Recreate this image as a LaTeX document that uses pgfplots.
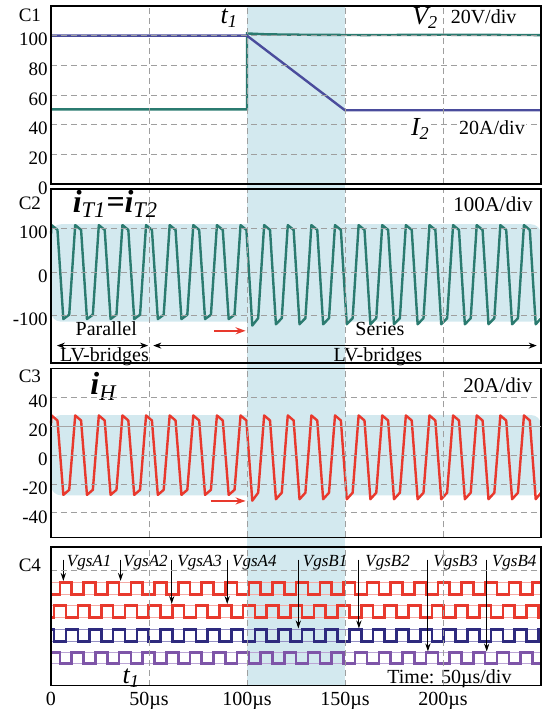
\documentclass[border=0pt]{standalone}
\usepackage{pgfplots}
\pgfplotsset{compat=1.18}
\usepackage{pgfplotstable}
\usepackage{fontspec}
\setmainfont{Liberation Serif}
\usetikzlibrary{arrows.meta}

\definecolor{cShade}{HTML}{D3E9EF}
\definecolor{cTeal}{HTML}{2B7B70}
\definecolor{cSlate}{HTML}{4A4C9C}
\definecolor{cRed}{HTML}{E8392D}
\definecolor{cRedL}{HTML}{F5AAA4}
\definecolor{cNavy}{HTML}{2E2A7E}
\definecolor{cNavyL}{HTML}{9490C4}
\definecolor{cPurp}{HTML}{7E55A8}
\definecolor{cPurpL}{HTML}{BBA5D5}

\pgfplotstableread{
t c2 c3
0 88 22
0.3 108 27.5
3.3 97 24
6.3 -108 -27.5
9.3 -98 -24
12.35 108 27.5
15.35 97 24
18.35 -108 -27.5
21.35 -98 -24
24.4 108 27.5
27.4 97 24
30.4 -108 -27.5
33.4 -98 -24
36.45 108 27.5
39.45 97 24
42.45 -108 -27.5
45.45 -98 -24
48.5 108 27.5
51.5 97 24
54.5 -108 -27.5
57.5 -98 -24
60.55 108 27.5
63.55 97 24
66.55 -108 -27.5
69.55 -98 -24
72.6 108 27.5
75.6 97 24
78.6 -108 -27.5
81.6 -98 -24
84.65 108 27.5
87.65 97 24
90.65 -108 -27.5
93.65 -98 -24
96.7 108 27.5
99.7 97 24
102.7 -123 -31.5
105.7 -106 -26
108.75 108 27.5
111.75 97 24
114.75 -120 -30.5
117.75 -106 -26
120.8 108 27.5
123.8 97 24
126.8 -120 -30.5
129.8 -106 -26
132.85 108 27.5
135.85 97 24
138.85 -120 -30.5
141.85 -106 -26
144.9 108 27.5
147.9 97 24
150.9 -120 -30.5
153.9 -106 -26
156.95 108 27.5
159.95 97 24
162.95 -120 -30.5
165.95 -106 -26
169 108 27.5
172 97 24
175 -120 -30.5
178 -106 -26
181.05 108 27.5
184.05 97 24
187.05 -120 -30.5
190.05 -106 -26
193.1 108 27.5
196.1 97 24
199.1 -120 -30.5
202.1 -106 -26
205.15 108 27.5
208.15 97 24
211.15 -120 -30.5
214.15 -106 -26
217.2 108 27.5
220.2 97 24
223.2 -120 -30.5
226.2 -106 -26
229.25 108 27.5
232.25 97 24
235.25 -120 -30.5
238.25 -106 -26
241.3 108 27.5
244.3 97 24
247.3 -120 -30.5
250 -106 -26
}\wavetab

\pgfplotsset{panel/.style={
  scale only axis, width=245pt, xmin=0, xmax=250, clip=false,
  axis on top, anchor=south west,
  xtick={0,50,100,150,200}, xticklabels={},
  grid=major,
  major grid style={gray!75, line width=0.45pt, dash pattern=on 3pt off 2pt},
  major tick length=0pt,
  axis line style={line width=0.8pt},
  tick label style={font=\fontsize{9.5}{10}\selectfont},
  yticklabel style={yshift=-2pt, inner sep=1.5pt},
}}

\begin{document}
\begin{tikzpicture}
% background shading of the transition interval
\begin{axis}[hide axis, scale only axis, width=245pt, height=339.75pt,
  at={(25.5pt,11.75pt)}, anchor=south west, xmin=0, xmax=250, ymin=0, ymax=1]
\fill[cShade] (axis cs:100,0) rectangle (axis cs:150,1);
\end{axis}

% ---------------- C1
\begin{axis}[panel, at={(25.5pt,262.5pt)}, height=89pt, ymin=0, ymax=120,
  ytick={0,20,40,60,80,100}, yticklabels={0,20,40,60,80,100}]
\addplot[cTeal, line width=1.2pt] coordinates {(0,50.3)(100,50.3)(100,101.5)(110,100.9)(130,100.6)(160,100.4)(200,100.6)(250,100.4)};
\addplot[cSlate, line width=1.2pt] coordinates {(0,100)(100,100)(150,49.7)(250,49.7)};
\node[anchor=east, font=\fontsize{9.5}{10}\selectfont, xshift=-1.5pt] at (rel axis cs:0,0.946) {C1};
\node[anchor=east, font=\fontsize{13}{13}\selectfont\itshape] at (axis cs:99,112) {t\textsubscript{1}};
\node[font=\fontsize{13}{13}\selectfont\itshape] at (axis cs:191,112) {V\textsubscript{2}};
\node[font=\fontsize{10}{10}\selectfont] at (axis cs:220.7,113) {20V/div};
\coordinate (Ilab) at (axis cs:188.5,37);
\coordinate (Alab) at (axis cs:225,38);
\end{axis}
\node[fill=white, inner sep=0.5pt, font=\fontsize{13}{13}\selectfont\itshape] at (Ilab) {I\textsubscript{2}};
\node[fill=white, inner sep=0.5pt, font=\fontsize{10}{10}\selectfont] at (Alab) {20A/div};

% ---------------- C2
\begin{axis}[panel, at={(25.5pt,173pt)}, height=87pt, ymin=-209, ymax=191,
  ytick={-100,0,100}, yticklabels={-100,0,100}]
\fill[cShade, rounded corners=5pt] (axis cs:0,110) rectangle (axis cs:250,-114);
\addplot[cTeal, line width=1.2pt, line join=round] table[x=t,y=c2] {\wavetab};
\node[anchor=east, font=\fontsize{9.5}{10}\selectfont, xshift=-1.5pt] at (rel axis cs:0,0.9175) {C2};
\node[anchor=west, font=\fontsize{16}{16}\selectfont\bfseries\itshape] at (axis cs:7.5,156) {i\textsubscript{\mdseries T1}=i\textsubscript{\mdseries T2}};
\node[font=\fontsize{10.5}{11}\selectfont] at (axis cs:225.5,156) {100A/div};
\node[font=\fontsize{10}{10}\selectfont] at (axis cs:28.2,-130) {Parallel};
\node[font=\fontsize{10}{10}\selectfont] at (axis cs:167.8,-130) {Series};
\node[font=\fontsize{10}{10}\selectfont] at (axis cs:27.3,-194) {LV-bridges};
\node[font=\fontsize{10}{10}\selectfont] at (axis cs:166.8,-194) {LV-bridges};
\draw[{Stealth[length=4pt,width=3pt]}-{Stealth[length=4pt,width=3pt]}, line width=0.5pt] (axis cs:3,-169) -- (axis cs:49.5,-169);
\draw[{Stealth[length=4pt,width=3pt]}-{Stealth[length=4pt,width=3pt]}, line width=0.5pt] (axis cs:52.2,-169) -- (axis cs:247.8,-169);
\draw[-{Stealth[length=5pt,width=3.5pt]}, cRed, line width=0.8pt] (axis cs:83.3,-135) -- (axis cs:99.3,-135);
\end{axis}

% ---------------- C3
\begin{axis}[panel, at={(25.5pt,85.75pt)}, height=84.5pt, ymin=-57, ymax=60,
  ytick={-40,-20,0,40}, yticklabels={-40,-20,0,40},
  extra y ticks={20}, extra y tick labels={20},
  extra y tick style={major grid style={solid, gray!70, line width=0.5pt}}]
\fill[cShade, rounded corners=5pt] (axis cs:0,27.8) rectangle (axis cs:250,-27.8);
\addplot[cRed, line width=1.2pt, line join=round] table[x=t,y=c3] {\wavetab};
\node[anchor=east, font=\fontsize{9.5}{10}\selectfont, xshift=-1.5pt] at (rel axis cs:0,0.953) {C3};
\node[anchor=west, font=\fontsize{16}{16}\selectfont\itshape] at (axis cs:16.5,47.6) {\textbf{i}\textsubscript{H}};
\node[font=\fontsize{10.5}{11}\selectfont] at (axis cs:228,48.7) {20A/div};
\draw[-{Stealth[length=5pt,width=3.5pt]}, cRed, line width=0.8pt] (axis cs:81.5,-31.7) -- (axis cs:99.3,-31.7);
\end{axis}

% ---------------- C4
\begin{axis}[panel, at={(25.5pt,11.75pt)}, height=69.25pt, ymin=0, ymax=138.5,
  ytick={115}, yticklabels={},
  xticklabels={0,50µs,100µs,150µs,200µs},
  xticklabel style={font=\fontsize{10}{10}\selectfont}]
% thin reference levels
\addplot[cRedL, line width=0.7pt] coordinates {(0,103)(250,103)};
\addplot[cRedL, line width=0.7pt] coordinates {(0,91)(250,91)};
\addplot[cRedL, line width=0.7pt] coordinates {(0,80)(250,80)};
\addplot[cRedL, line width=0.7pt] coordinates {(0,68)(250,68)};
\addplot[cNavyL, line width=0.7pt] coordinates {(0,56)(250,56)};
\addplot[cNavyL, line width=0.7pt] coordinates {(0,44)(250,44)};
\addplot[cPurpL, line width=0.7pt] coordinates {(0,33)(250,33)};
\addplot[cPurpL, line width=0.7pt] coordinates {(0,22)(250,22)};
% gate signals
\addplot[cRed, line width=1.3pt, const plot] coordinates {(0,91)(4.6,103)(10.6,91)(16.7,103)(22.7,91)(28.7,103)(34.7,91)(40.8,103)(46.8,91)(52.8,103)(58.8,91)(64.9,103)(70.9,91)(76.9,103)(82.9,91)(89.0,103)(95.0,91)(101.0,103)(107.0,91)(113.1,103)(119.1,91)(125.1,103)(131.1,91)(137.2,103)(143.2,91)(149.2,103)(155.2,91)(161.3,103)(167.3,91)(173.3,103)(179.3,91)(185.4,103)(191.4,91)(197.4,103)(203.4,91)(209.5,103)(215.5,91)(221.5,103)(227.5,91)(233.6,103)(239.6,91)(245.6,103)(250,103)};
\addplot[cRed, line width=1.3pt, const plot] coordinates {(0,68)(1.6,80)(7.6,68)(13.7,80)(19.7,68)(25.7,80)(31.7,68)(37.8,80)(43.8,68)(49.8,80)(55.8,68)(61.9,80)(67.9,68)(73.9,80)(79.9,68)(86.0,80)(92.0,68)(98.0,80)(104.0,68)(110.1,80)(116.1,68)(122.1,80)(128.1,68)(134.2,80)(140.2,68)(146.2,80)(152.2,68)(158.3,80)(164.3,68)(170.3,80)(176.3,68)(182.4,80)(188.4,68)(194.4,80)(200.4,68)(206.5,80)(212.5,68)(218.5,80)(224.5,68)(230.6,80)(236.6,68)(242.6,80)(248.6,68)(250,68)};
\addplot[cNavy, line width=1.3pt, const plot] coordinates {(0,56)(1.6,44)(7.6,56)(13.7,44)(19.7,56)(25.7,44)(31.7,56)(37.8,44)(43.8,56)(49.8,44)(55.8,56)(61.9,44)(67.9,56)(73.9,44)(79.9,56)(86.0,44)(92.0,56)(98.0,44)(104.0,56)(110.1,44)(116.1,56)(122.1,44)(128.1,56)(134.2,44)(140.2,56)(146.2,44)(152.2,56)(158.3,44)(164.3,56)(170.3,44)(176.3,56)(182.4,44)(188.4,56)(194.4,44)(200.4,56)(206.5,44)(212.5,56)(218.5,44)(224.5,56)(230.6,44)(236.6,56)(242.6,44)(248.6,56)(250,56)};
\addplot[cPurp, line width=1.3pt, const plot] coordinates {(0,33)(4.6,22)(10.6,33)(16.7,22)(22.7,33)(28.7,22)(34.7,33)(40.8,22)(46.8,33)(52.8,22)(58.8,33)(64.9,22)(70.9,33)(76.9,22)(82.9,33)(89.0,22)(95.0,33)(101.0,22)(107.0,33)(113.1,22)(119.1,33)(125.1,22)(131.1,33)(137.2,22)(143.2,33)(149.2,22)(155.2,33)(161.3,22)(167.3,33)(173.3,22)(179.3,33)(185.4,22)(191.4,33)(197.4,22)(203.4,33)(209.5,22)(215.5,33)(221.5,22)(227.5,33)(233.6,22)(239.6,33)(245.6,22)(250,22)};
\node[anchor=east, font=\fontsize{9.5}{10}\selectfont, xshift=-1.5pt] at (rel axis cs:0,0.87) {C4};
% annotation arrows
\foreach \xa/\ya in {6.3/104.5, 35.5/104.5, 61.6/81.5, 89.9/81.5, 126.2/57, 157.1/57, 192.3/34, 222.3/34}{
  \edef\tmp{\noexpand\draw[-{Stealth[length=4pt,width=2.6pt]}, line width=0.5pt] (axis cs:\xa,126) -- (axis cs:\xa,\ya);}\tmp
}
\node[anchor=west, font=\fontsize{8.5}{9}\selectfont\itshape, inner sep=0.5pt] at (axis cs:7.4,122.5) {VgsA1};
\node[anchor=west, font=\fontsize{8.5}{9}\selectfont\itshape, inner sep=0.5pt] at (axis cs:36.2,122.5) {VgsA2};
\node[anchor=west, font=\fontsize{8.5}{9}\selectfont\itshape, inner sep=0.5pt] at (axis cs:63.8,122.5) {VgsA3};
\node[anchor=west, font=\fontsize{8.5}{9}\selectfont\itshape, inner sep=0.5pt] at (axis cs:91.7,122.5) {VgsA4};
\node[anchor=west, font=\fontsize{8.5}{9}\selectfont\itshape, inner sep=0.5pt] at (axis cs:127.8,122.5) {VgsB1};
\node[anchor=west, font=\fontsize{8.5}{9}\selectfont\itshape, inner sep=0.5pt] at (axis cs:159.7,122.5) {VgsB2};
\node[anchor=west, font=\fontsize{8.5}{9}\selectfont\itshape, inner sep=0.5pt] at (axis cs:194.4,122.5) {VgsB3};
\node[anchor=west, font=\fontsize{8.5}{9}\selectfont\itshape, inner sep=0.5pt] at (axis cs:224.3,122.5) {VgsB4};
\node[anchor=east, font=\fontsize{13}{13}\selectfont\itshape] at (axis cs:49,7) {t\textsubscript{1}};
\node[font=\fontsize{10}{10}\selectfont] at (axis cs:203.3,6.5) {Time: 50µs/div};
\end{axis}

\pgfresetboundingbox
\path (0,0) rectangle (273pt,354.5pt);
\end{tikzpicture}
\end{document}
